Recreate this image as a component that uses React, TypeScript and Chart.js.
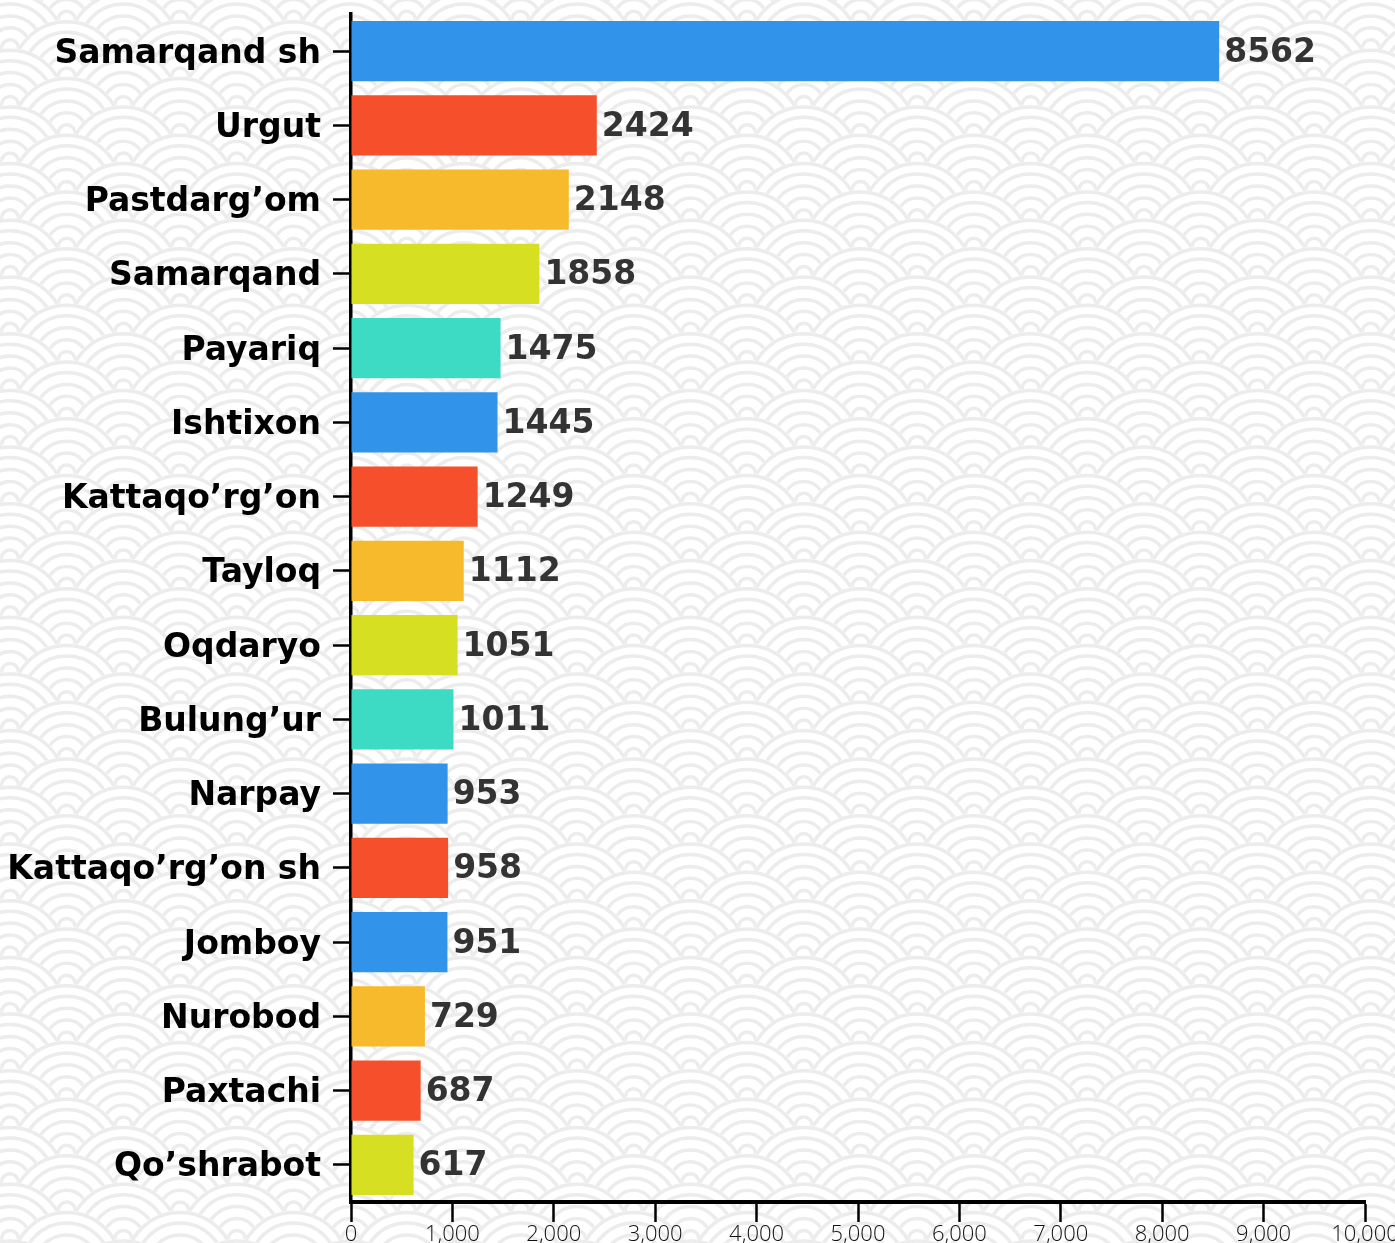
import React, { useEffect, useRef } from "react";
import { Chart, registerables } from "chart.js";

Chart.register(...registerables);

const categories = [
  "Samarqand sh",
  "Urgut",
  "Pastdarg’om",
  "Samarqand",
  "Payariq",
  "Ishtixon",
  "Kattaqo’rg’on",
  "Tayloq",
  "Oqdaryo",
  "Bulung’ur",
  "Narpay",
  "Kattaqo’rg’on sh",
  "Jomboy",
  "Nurobod",
  "Paxtachi",
  "Qo’shrabot",
];

const values = [8562, 2424, 2148, 1858, 1475, 1445, 1249, 1112, 1051, 1011, 953, 958, 951, 729, 687, 617];

const BLUE = "#3194EA";
const RED = "#F5502B";
const YELLOW = "#F7BA2C";
const LIME = "#D7DF23";
const TEAL = "#3DDBC4";

const barColors = [BLUE, RED, YELLOW, LIME, TEAL, BLUE, RED, YELLOW, LIME, TEAL, BLUE, RED, BLUE, YELLOW, RED, LIME];

const xMin = 0;
const xMax = 10000;
const xStep = 1000;

const W = 1395;
const H = 1243;

const backgroundPlugin = {
  id: "seigaiha",
  beforeDraw(chart: any) {
    const ctx = chart.ctx as CanvasRenderingContext2D;
    ctx.save();
    ctx.fillStyle = "#ffffff";
    ctx.fillRect(0, 0, chart.width, chart.height);
    const r = 56.7;
    const hStep = r / 2;
    const offX = 66.7 - 2 * r;
    const offY = (275 % hStep) - 2 * hStep;
    const rows = Math.ceil((chart.height + 2 * r) / hStep) + 2;
    const cols = Math.ceil(chart.width / (2 * r)) + 3;
    const ringRadii = [r - 2, r * 0.78, r * 0.57, r * 0.36, r * 0.15];
    for (let j = 0; j < rows; j++) {
      const cy = offY + j * hStep;
      const shift = j % 2 === 0 ? 0 : r;
      for (let i = -1; i < cols; i++) {
        const cx = offX + i * 2 * r + shift;
        ctx.beginPath();
        ctx.arc(cx, cy, r, 0, Math.PI * 2);
        ctx.fillStyle = "#ffffff";
        ctx.fill();
        ctx.strokeStyle = "#ececec";
        ctx.lineWidth = 3.5;
        for (const rr of ringRadii) {
          ctx.beginPath();
          ctx.arc(cx, cy, rr, 0, Math.PI * 2);
          ctx.stroke();
        }
      }
    }
    ctx.restore();
  },
};

const valueLabelPlugin = {
  id: "valueLabels",
  afterDatasetsDraw(chart: any) {
    const ctx = chart.ctx as CanvasRenderingContext2D;
    const meta = chart.getDatasetMeta(0);
    ctx.save();
    ctx.font = "bold 33px 'DejaVu Sans'";
    ctx.fillStyle = "#333333";
    ctx.textAlign = "left";
    ctx.textBaseline = "middle";
    meta.data.forEach((el: any, i: number) => {
      const v = chart.data.datasets[0].data[i];
      ctx.fillText(String(v), el.x + 5, el.y + 2);
    });
    ctx.restore();
  },
};

export default function App() {
  const ref = useRef<HTMLCanvasElement | null>(null);

  useEffect(() => {
    document.body.style.margin = "0";
    if (!ref.current) return;
    const chart = new Chart(ref.current, {
      type: "bar",
      data: {
        labels: categories,
        datasets: [
          {
            data: values,
            backgroundColor: barColors,
            borderWidth: 0,
            barPercentage: 0.81,
            categoryPercentage: 1,
          },
        ],
      },
      options: {
        indexAxis: "y",
        animation: false,
        responsive: false,
        devicePixelRatio: 1,
        layout: { padding: { top: 14, right: 30, bottom: 0, left: 0 } },
        plugins: {
          legend: { display: false },
          tooltip: { enabled: false },
        },
        scales: {
          x: {
            type: "linear",
            min: xMin,
            max: xMax,
            afterFit(scale: any) {
              scale.height = 41;
              scale.paddingLeft = 0;
              scale.paddingRight = 0;
            },
            ticks: {
              stepSize: xStep,
              color: "#111111",
              padding: 0,
              font: { family: "'Open Sans'", size: 22, weight: "300" as any },
              maxRotation: 0,
              callback: (v: any) => Number(v).toLocaleString("en-US"),
            },
            grid: {
              drawOnChartArea: false,
              drawTicks: true,
              tickLength: 20,
              tickColor: "#000000",
              tickWidth: 2.5,
            } as any,
            border: { display: true, color: "#000000", width: 4 },
          },
          y: {
            afterFit(scale: any) {
              scale.width = 351;
              scale.paddingTop = 0;
              scale.paddingBottom = 0;
            },
            ticks: {
              color: "#000000",
              padding: 12,
              labelOffset: 3,
              font: { family: "'DejaVu Sans'", size: 33, weight: "bold" },
            },
            grid: {
              offset: false,
              drawOnChartArea: false,
              drawTicks: true,
              tickLength: 18,
              tickColor: "#000000",
              tickWidth: 2.5,
            } as any,
            border: { display: true, color: "#000000", width: 3.5 },
          },
        },
      },
      plugins: [backgroundPlugin, valueLabelPlugin],
    });
    return () => chart.destroy();
  }, []);

  return (
    <div style={{ width: W, height: H }}>
      <canvas ref={ref} width={W} height={H} style={{ display: "block", width: W, height: H }} />
    </div>
  );
}
